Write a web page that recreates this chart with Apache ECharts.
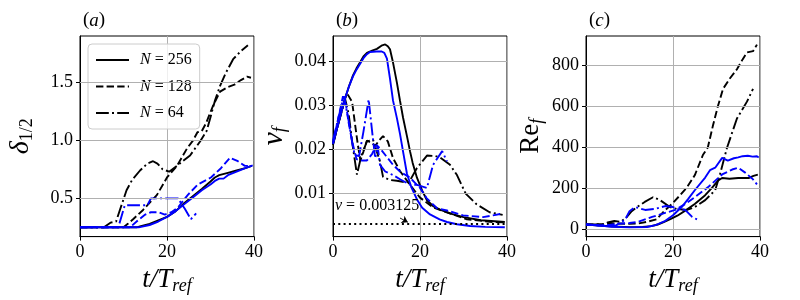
<!DOCTYPE html>
<html><head><meta charset="utf-8">
<script src="https://cdn.jsdelivr.net/npm/echarts@6/dist/echarts.min.js"></script>
<style>html,body{margin:0;padding:0;background:#fff}#c{width:800px;height:300px}</style>
</head><body><div id="c"></div>
<script>
// ---------- data: [t/T_ref, value] ----------
// panel (a): delta_1/2
const deltaK256 = [[0,0.25],[13,0.25],[14,0.26],[16,0.28],[18,0.31],[20,0.34],[22,0.39],[24,0.46],[26,0.52],[28,0.58],[30,0.645],[31,0.68],[32,0.70],[34,0.72],[36,0.74],[38,0.76],[39.5,0.78]];
const deltaK128 = [[0,0.25],[10,0.25],[11,0.28],[12.2,0.32],[14.5,0.40],[17.7,0.53],[20,0.68],[22.3,0.78],[24.6,0.93],[26,1.0],[27,1.07],[28,1.08],[29,1.15],[30.6,1.30],[32.2,1.42],[34,1.46],[35.5,1.48],[37,1.52],[38.4,1.55],[39.3,1.54]];
const deltaK64 = [[0,0.25],[5.5,0.25],[7,0.29],[8.3,0.30],[9,0.38],[10.7,0.57],[12,0.66],[13.8,0.74],[15.5,0.80],[16.8,0.82],[17.8,0.80],[19,0.75],[20.5,0.73],[22.3,0.78],[25.3,0.87],[27.6,0.99],[29.1,1.08],[30,1.20],[31,1.34],[32.2,1.47],[33.5,1.58],[35.2,1.70],[37,1.77],[38.6,1.82]];
const deltaB256 = [[0,0.25],[13.5,0.25],[16,0.27],[18,0.30],[20,0.34],[22,0.39],[24,0.45],[26,0.51],[28,0.57],[30,0.62],[31,0.65],[32,0.67],[33,0.67],[34,0.70],[36,0.73],[38,0.76],[39.7,0.785]];
const deltaB128 = [[0,0.25],[11.5,0.25],[13.3,0.31],[15,0.36],[16.3,0.38],[18,0.38],[19.5,0.36],[21,0.38],[22.5,0.42],[24.8,0.53],[27.1,0.62],[30.1,0.68],[32.4,0.76],[34.5,0.85],[36.3,0.82],[37.9,0.78],[39.3,0.78]];
const deltaB64 = [[0,0.25],[8.8,0.25],[10.3,0.44],[15.5,0.44],[16.3,0.50],[22.5,0.50],[24.1,0.41],[25.5,0.32],[26.7,0.37]];

// panel (b): nu_f
const nuK256 = [[0,0.0212],[1,0.0250],[2,0.0287],[2.8,0.0316],[3.7,0.0343],[4.6,0.0367],[5.4,0.0383],[6.2,0.0396],[7,0.0410],[7.8,0.0418],[9,0.0423],[10.1,0.0427],[11.3,0.0435],[12,0.0437],[12.6,0.0433],[13.1,0.0426],[13.8,0.0396],[14.7,0.0350],[15.4,0.0310],[16.1,0.0272],[17,0.0230],[17.7,0.0196],[18.3,0.0170],[19.3,0.0136],[20.5,0.0107],[21.6,0.0085],[23,0.0072],[24.6,0.0064],[27,0.0055],[30,0.0047],[34,0.0040],[39.5,0.0036]];
const nuK128 = [[0,0.0215],[1,0.025],[2,0.029],[3.2,0.0327],[4.4,0.0307],[5,0.0262],[5.7,0.0211],[6.3,0.0175],[7,0.0195],[7.8,0.0220],[8.8,0.0215],[9.7,0.0208],[10.6,0.0220],[11.5,0.0230],[12.6,0.0218],[13.8,0.0180],[15.4,0.0151],[17.7,0.0120],[20,0.0091],[23,0.0069],[26.2,0.0058],[30.8,0.0042],[36.8,0.0036],[39.5,0.0035]];
const nuK64 = [[0,0.021],[1,0.025],[2,0.0285],[2.8,0.0313],[3.6,0.028],[4.5,0.021],[5.5,0.0143],[6.5,0.0185],[7.8,0.0218],[9.2,0.0222],[10.8,0.0173],[11.5,0.0138],[13,0.0131],[14.7,0.0129],[17,0.0125],[18,0.0135],[19.3,0.0158],[21.6,0.0186],[23.5,0.0185],[24.6,0.0182],[26.9,0.0165],[28.5,0.0142],[30.5,0.0100],[33,0.0076],[36,0.0058],[39,0.0052]];
const nuB256 = [[0,0.0212],[1,0.0250],[2,0.0287],[2.8,0.0316],[3.7,0.0343],[4.6,0.0365],[5.4,0.0380],[6.2,0.0393],[7,0.0406],[7.8,0.0415],[8.5,0.0420],[10,0.0421],[11.2,0.0421],[11.8,0.0418],[12.4,0.0405],[13.1,0.0360],[13.8,0.0310],[14.7,0.0270],[15.4,0.0235],[16.2,0.0190],[17,0.0145],[18,0.0115],[19.3,0.0087],[20.5,0.0068],[22.3,0.0053],[24.5,0.0042],[26.2,0.0036],[28.5,0.0031],[31.5,0.0027],[35,0.0025],[39.5,0.0024]];
const nuB128 = [[0,0.0215],[1.2,0.027],[2.3,0.032],[3,0.030],[3.6,0.026],[4.4,0.0218],[5.4,0.0178],[6.5,0.0175],[7.8,0.0175],[9,0.019],[10,0.021],[11,0.020],[12.2,0.0185],[13.8,0.0165],[15.4,0.015],[17.7,0.0136],[18.8,0.0125],[20,0.0113],[21.5,0.0090],[23.9,0.0067],[26.2,0.0062],[29.9,0.0051],[34.5,0.0047],[36.8,0.0051],[38.9,0.0055]];
const nuB64 = [[0,0.022],[1.2,0.027],[2.5,0.032],[3.5,0.027],[4.5,0.021],[5,0.0187],[6,0.0185],[7,0.024],[8.2,0.0313],[9,0.024],[9.7,0.018],[10.3,0.0205],[10.8,0.0165],[12,0.015],[13.8,0.0142],[15.5,0.0132],[17.7,0.012],[19.3,0.012],[21.6,0.0113],[23,0.0165],[25.1,0.0196],[26.2,0.0173]];
const nuRef = 0.003125;
const nuNoteAt = [0, 0.0073];
const nuArrowFrom = [15.4, 0.0045];
const nuArrowTo = [17.2, 0.00355];

// panel (c): Re_f
const reK256 = [[0,25],[3,20],[6,15],[10,12],[13,13],[15,17],[16.5,25],[18,38],[19.5,52],[21,68],[23,95],[25,125],[27.4,168],[29,205],[30.3,238],[31.3,252],[33,248],[35,252],[37.5,252],[38.5,262],[39.5,268]];
const reK128 = [[0,25],[4.5,27],[5.5,32],[7,30],[10,28],[12,30],[14,38],[16.2,50],[18.2,95],[20,130],[21.5,165],[23.2,206],[25,265],[26.9,365],[28,400],[29.2,509],[30.3,600],[31.5,686],[33,735],[34.7,782],[36,830],[37,864],[38.4,870],[39.3,902]];
const reK64 = [[0,25],[4,25],[5,35],[6.5,42],[8,38],[9.4,62],[10.5,90],[11.7,110],[13.5,135],[15.4,158],[17,144],[19.3,110],[21,100],[23.2,96],[25,110],[27.4,144],[29.7,192],[30.8,269],[32.4,398],[34.7,542],[37,624],[38.4,686]];
const reB256 = [[0,25],[3,20],[6,14],[10,11],[14,13],[16,22],[18,40],[20,70],[22,110],[23.5,150],[25,192],[27.4,254],[28.5,290],[29.7,302],[31.3,350],[32.6,336],[34,348],[35,352],[36,358],[37.2,360],[38.3,356],[39.3,358],[39.7,352]];
const reB128 = [[0,25],[3,20],[5,22],[7.4,29],[10,32],[12,38],[15.2,62],[17.5,77],[20.5,96],[22.8,125],[25,158],[28,206],[31.3,269],[33.6,293],[35,302],[36.6,278],[38.4,245],[39.3,221]];
const reB64 = [[0,25],[4,20],[7,22],[8,35],[9,48],[10,90],[11.3,110],[13.6,96],[15.9,101],[18.2,115],[20,110],[21.1,101],[22.8,96],[24.4,62],[25.7,48],[26.2,48]];

// axes / labels
const xRange = [0, 40];
const yTicksA = [0.5, 1.0, 1.5];
const yTicksB = [0.01, 0.02, 0.03, 0.04];
const yTicksC = [0, 200, 400, 600, 800];
const panelTitles = ['a', 'b', 'c'];
const legendNames = ['N = 256', 'N = 128', 'N = 64'];

// ---------- chart ----------
const FONT = 'Liberation Serif';
const BLACK = '#000000', BLUE = '#0000ff';
const LW = 1.9;
const DASH = [7.4, 3.2], DASHDOT = [12.8, 3.2, 2, 3.2];
const lefts = [80, 333, 586];
const W = 174, TOP = 36, H = 204;

const chart = echarts.init(document.getElementById('c'), null, {renderer: 'canvas'});

function mkLine(name, data, gi, color, type) {
  return {
    name, type: 'line', data, xAxisIndex: gi, yAxisIndex: gi, z: 3,
    symbol: 'none', showSymbol: false, animation: false, silent: true,
    lineStyle: {color, width: LW, type}, itemStyle: {color},
    emphasis: {disabled: true}
  };
}

const grids = lefts.map(l => ({left: l, top: TOP, width: W, height: H, show: true,
  borderColor: '#000', borderWidth: 1, backgroundColor: 'transparent', containLabel: false}));

const xAxes = lefts.map((l, i) => ({
  type: 'value', gridIndex: i, min: xRange[0], max: xRange[1], interval: 20,
  axisLine: {show: true, onZero: false, lineStyle: {color: '#000', width: 1}},
  axisTick: {show: true, inside: false, length: 4, lineStyle: {color: '#000'}},
  axisLabel: {color: '#000', fontFamily: FONT, fontSize: 18, margin: 7},
  splitLine: {show: true, lineStyle: {color: '#b0b0b0', width: 1}},
  name: '{i|t/T}{s|ref}', nameLocation: 'middle', nameGap: 24,
  nameTextStyle: {rich: {
    i: {fontFamily: FONT, fontStyle: 'italic', fontSize: 27, color: '#000'},
    s: {fontFamily: FONT, fontStyle: 'italic', fontSize: 18, color: '#000', verticalAlign: 'bottom', padding: [12, 0, 0, 0]}
  }}
}));

function mkY(i, min, max, ticks, fmt, name, rich, gap) {
  return {
    type: 'value', gridIndex: i, min, max,
    axisLine: {show: true, onZero: false, lineStyle: {color: '#000', width: 1}},
    axisTick: {show: true, inside: false, length: 4, lineStyle: {color: '#000'}, customValues: ticks},
    axisLabel: {color: '#000', fontFamily: FONT, fontSize: 18, margin: 7, customValues: ticks, formatter: fmt},
    splitLine: {show: false},
    name, nameLocation: 'middle', nameRotate: 90, nameGap: gap,
    nameTextStyle: {rich}
  };
}
const subStyle = {fontFamily: FONT, fontSize: 18, color: '#000', verticalAlign: 'bottom', padding: [12, 0, 0, 0]};
const yAxes = [
  mkY(0, 0.17, 1.90, yTicksA, v => v.toFixed(1), '{i|δ}{s|1/2}',
      {i: {fontFamily: FONT, fontStyle: 'italic', fontSize: 28, color: '#000'}, s: subStyle}, 44),
  mkY(1, 0.0003, 0.0456, yTicksB, v => v.toFixed(2), '{i|ν}{s|f}',
      {i: {fontFamily: FONT, fontStyle: 'italic', fontSize: 30, color: '#000'}, s: Object.assign({}, subStyle, {fontStyle: 'italic'})}, 44),
  mkY(2, -34, 944, yTicksC, v => String(Math.round(v)), '{r|Re}{s|f}',
      {r: {fontFamily: FONT, fontSize: 27, color: '#000'}, s: Object.assign({}, subStyle, {fontStyle: 'italic'})}, 40)
];

// horizontal grid lines at the y tick values (drawn in data coordinates)
function gridLines(gi, ticks) {
  return {
    name: 'grid' + gi, type: 'line', data: [], xAxisIndex: gi, yAxisIndex: gi, z: 1,
    silent: true, animation: false,
    markLine: {
      silent: true, animation: false, symbol: ['none', 'none'], label: {show: false},
      lineStyle: {color: '#b0b0b0', width: 1, type: 'solid'},
      emphasis: {disabled: true},
      data: ticks.map(v => [{coord: [xRange[0], v]}, {coord: [xRange[1], v]}])
    }
  };
}

const series = [
  gridLines(0, yTicksA), gridLines(1, yTicksB), gridLines(2, yTicksC),
  mkLine(legendNames[0], deltaK256, 0, BLACK, 'solid'),
  mkLine(legendNames[1], deltaK128, 0, BLACK, DASH),
  mkLine(legendNames[2], deltaK64, 0, BLACK, DASHDOT),
  mkLine('a-b256', deltaB256, 0, BLUE, 'solid'),
  mkLine('a-b128', deltaB128, 0, BLUE, DASH),
  mkLine('a-b64', deltaB64, 0, BLUE, DASHDOT),
  mkLine('b-k256', nuK256, 1, BLACK, 'solid'),
  mkLine('b-k128', nuK128, 1, BLACK, DASH),
  mkLine('b-k64', nuK64, 1, BLACK, DASHDOT),
  mkLine('b-b256', nuB256, 1, BLUE, 'solid'),
  mkLine('b-b128', nuB128, 1, BLUE, DASH),
  mkLine('b-b64', nuB64, 1, BLUE, DASHDOT),
  mkLine('c-k256', reK256, 2, BLACK, 'solid'),
  mkLine('c-k128', reK128, 2, BLACK, DASH),
  mkLine('c-k64', reK64, 2, BLACK, DASHDOT),
  mkLine('c-b256', reB256, 2, BLUE, 'solid'),
  mkLine('c-b128', reB128, 2, BLUE, DASH),
  mkLine('c-b64', reB64, 2, BLUE, DASHDOT)
];

// reference viscosity line + annotation in panel (b)
series.push({
  name: 'nu-ref', type: 'line', data: [], xAxisIndex: 1, yAxisIndex: 1, z: 4, silent: true, animation: false,
  markLine: {
    silent: true, animation: false, symbol: ['none', 'none'],
    label: {show: false}, emphasis: {disabled: true},
    data: [
      [{coord: [xRange[0], nuRef], lineStyle: {type: [2, 3.3], color: '#000', width: 2}},
       {coord: [xRange[1], nuRef]}],
      [{coord: nuArrowFrom, symbol: 'none', lineStyle: {type: 'solid', color: '#000', width: 0.9}},
       {coord: nuArrowTo, symbol: 'arrow', symbolSize: 6}]
    ]
  },
  markPoint: {
    silent: true, animation: false,
    data: [{coord: nuNoteAt, symbol: 'circle', symbolSize: 0,
      label: {show: true, position: 'right', distance: 2, formatter: '{i|ν} = ' + nuRef,
        color: '#000', fontFamily: FONT, fontSize: 16,
        rich: {i: {fontFamily: FONT, fontStyle: 'italic', fontSize: 16, color: '#000'}}}}]
  }
});

const titles = panelTitles.map((t, i) => ({
  text: '{p|(}{i|' + t + '}{p|)}', left: lefts[i] - 2, top: 6,
  textStyle: {fontWeight: 'normal', rich: {
    p: {fontFamily: FONT, fontSize: 19, fontWeight: 'normal', color: '#000'},
    i: {fontFamily: FONT, fontStyle: 'italic', fontWeight: 'normal', fontSize: 19, color: '#000'}
  }}
}));

chart.setOption({
  animation: false,
  backgroundColor: '#fff',
  title: titles,
  grid: grids,
  xAxis: xAxes,
  yAxis: yAxes,
  legend: {
    data: legendNames, orient: 'vertical', left: 88, top: 44,
    itemWidth: 33, itemHeight: 14, itemGap: 10.5,
    padding: [8, 8, 8, 7], borderColor: '#cccccc', borderWidth: 1, borderRadius: 4,
    backgroundColor: 'rgba(255,255,255,0.8)', selectedMode: false,
    itemStyle: {opacity: 0, borderWidth: 0},
    formatter: n => '{i|N}' + n.slice(1),
    textStyle: {fontFamily: FONT, fontSize: 16, color: '#000', padding: [0, 0, 0, 6],
      rich: {i: {fontFamily: FONT, fontStyle: 'italic', fontSize: 16, color: '#000'}}}
  },
  series
});
</script></body></html>
